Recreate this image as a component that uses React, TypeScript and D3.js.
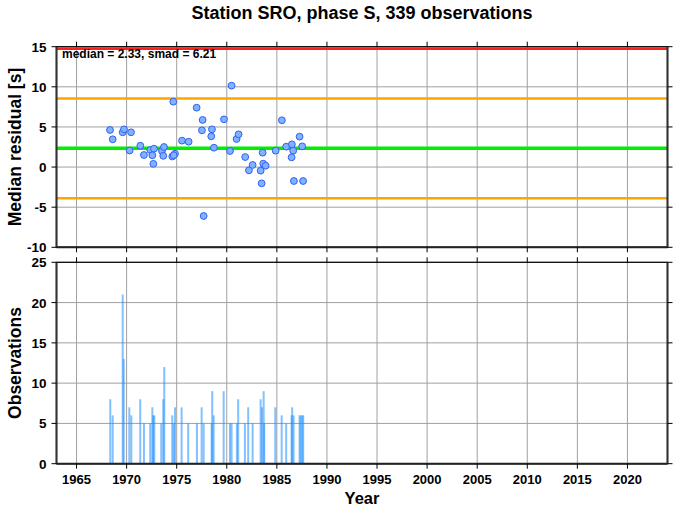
import React from "react";
import * as d3 from "d3";

const TITLE = "Station SRO, phase S, 339 observations";
const MEDIAN = 2.33;
const SMAD = 6.21;

// residual points: [year, median residual]
const pointYears = [
  1968.34, 1968.61, 1969.61, 1969.74, 1970.44, 1970.30, 1971.37, 1971.73, 1972.36, 1972.73,
  1972.57, 1972.67, 1973.53, 1973.66, 1973.73, 1974.56, 1974.83, 1974.66, 1974.70, 1975.53,
  1976.19, 1976.99, 1977.59, 1977.52, 1977.69, 1978.52, 1978.45, 1978.72, 1979.72, 1980.32,
  1980.48, 1980.98, 1981.18, 1981.84, 1982.21, 1982.58, 1983.38, 1983.58, 1983.64, 1983.88,
  1983.48, 1984.88, 1985.50, 1985.93, 1986.50, 1986.63, 1986.47, 1986.70, 1987.53, 1987.27,
  1987.62,
];
const pointValues = [
  4.62, 3.46, 4.33, 4.70, 4.33, 2.06, 2.66, 1.50, 2.13, 2.29,
  1.47, 0.40, 2.00, 1.40, 2.50, 1.32, 1.66, 8.15, 1.48, 3.29,
  3.16, 7.40, 5.87, 4.58, -6.10, 4.70, 3.83, 2.41, 5.95, 2.00,
  10.14, 3.50, 4.08, 1.25, -0.41, 0.26, -0.45, 1.79, 0.42, 0.17,
  -2.03, 2.04, 5.83, 2.54, 2.83, 2.04, 1.21, -1.74, 2.58, 3.79,
  -1.74,
];

// observation counts: [year, count]
const barYears = [
  1968.37, 1968.61, 1969.61, 1969.71, 1970.27, 1970.47, 1971.36, 1971.73, 1972.36, 1972.57,
  1972.66, 1972.76, 1973.46, 1973.66, 1973.76, 1974.56, 1974.70, 1974.83, 1975.49, 1976.15,
  1977.02, 1977.49, 1977.69, 1978.49, 1978.55, 1978.69, 1979.69, 1980.32, 1980.48, 1981.01,
  1981.14, 1981.81, 1982.14, 1982.58, 1983.38, 1983.51, 1983.68, 1983.74, 1984.84, 1985.48,
  1985.93, 1986.47, 1986.53, 1986.67, 1987.27, 1987.37, 1987.53, 1987.63,
];
const barCounts = [
  8, 6, 21, 13, 7, 6, 8, 5, 5, 7,
  6, 6, 5, 8, 12, 6, 5, 7, 7, 5,
  5, 7, 5, 5, 9, 6, 9, 5, 5, 5,
  8, 5, 7, 5, 8, 7, 9, 5, 7, 6,
  5, 6, 7, 6, 6, 6, 6, 6,
];

const xTicks = d3.range(1965, 2021, 5);
const y1Ticks = [-10, -5, 0, 5, 10, 15];
const y2Ticks = [0, 5, 10, 15, 20, 25];

const FONT = "'Liberation Sans', Arial, Helvetica, sans-serif";

export default function App() {
  const W = 674, H = 511;
  const left = 56.5, right = 667.5;
  const top1 = 46.7, bot1 = 247.3;
  const top2 = 262.3, bot2 = 463.7;
  const cx = (left + right) / 2;

  const x = d3.scaleLinear().domain([1963, 2024]).range([left, right]);
  const y1 = d3.scaleLinear().domain([-10, 15]).range([bot1, top1]);
  const y2 = d3.scaleLinear().domain([0, 25]).range([bot2, top2]);

  const refLines = [
    { v: MEDIAN + 2 * SMAD, c: "#ff2020", w: 2.5 },
    { v: MEDIAN - 2 * SMAD, c: "#ff2020", w: 2.5 },
    { v: MEDIAN + SMAD, c: "#ffa500", w: 2.5 },
    { v: MEDIAN - SMAD, c: "#ffa500", w: 2.5 },
    { v: MEDIAN, c: "#00ee00", w: 3.5 },
  ];

  const grid = "#a0a0a0";
  const tick = 5;

  const frame = (t: number, b: number) => (
    <g>
      <rect x={left} y={t} width={right - left} height={b - t} fill="none" stroke="#000" strokeWidth={1.2} />
      <line x1={left} x2={left} y1={t} y2={b} stroke="#333" strokeWidth={2} />
      <line x1={left} x2={right} y1={b} y2={b} stroke="#222" strokeWidth={2} />
      <line x1={right} x2={right} y1={t} y2={b} stroke="#333" strokeWidth={2} />
      {xTicks.map((v) => (
        <g key={v}>
          <line x1={x(v)} x2={x(v)} y1={b} y2={b + tick} stroke="#000" />
          <line x1={x(v)} x2={x(v)} y1={t} y2={t - tick} stroke="#000" />
        </g>
      ))}
    </g>
  );

  const pts = pointYears.map((yr, i) => ({ yr, v: pointValues[i] }));
  const bars = barYears.map((yr, i) => ({ yr, n: barCounts[i] }));

  return (
    <svg width={W} height={H} style={{ position: "absolute", left: 0, top: 0, background: "#fff" }} fontFamily={FONT}>
      <defs>
        <clipPath id="c1">
          <rect x={left} y={top1} width={right - left} height={bot1 - top1} />
        </clipPath>
      </defs>
      <rect x={0} y={0} width={W} height={H} fill="#fff" />
      <text x={cx} y={19} textAnchor="middle" fontWeight="bold" fontSize={18}>{TITLE}</text>

      {/* top panel grid */}
      <g>
        {xTicks.map((v) => (
          <line key={"gx1" + v} x1={x(v)} x2={x(v)} y1={top1} y2={bot1} stroke={grid} strokeWidth={1} />
        ))}
        {y1Ticks.map((v) => (
          <line key={"gy1" + v} x1={left} x2={right} y1={y1(v)} y2={y1(v)} stroke={grid} strokeWidth={1} />
        ))}
      </g>
      <g clipPath="url(#c1)">
        {refLines.map((l, i) => (
          <line key={i} x1={left} x2={right} y1={y1(l.v)} y2={y1(l.v)} stroke={l.c} strokeWidth={l.w} />
        ))}
        {pts.map((p, i) => (
          <circle key={i} cx={x(p.yr)} cy={y1(p.v)} r={3.4} fill="#80b2ff" stroke="#2f62f2" strokeWidth={1} />
        ))}
      </g>
      {frame(top1, bot1)}
      {y1Ticks.map((v) => (
        <g key={"t1" + v}>
          <line x1={left - tick} x2={left} y1={y1(v)} y2={y1(v)} stroke="#000" />
          <line x1={right} x2={right + tick} y1={y1(v)} y2={y1(v)} stroke="#000" />
          <text x={left - 10} y={y1(v) + 5} textAnchor="end" fontWeight="bold" fontSize={13.5}>{v}</text>
        </g>
      ))}
      <text x={62} y={58} fontWeight="bold" fontSize={12}>{`median = ${MEDIAN.toFixed(2)}, smad = ${SMAD.toFixed(2)}`}</text>
      <text transform={`translate(21,${(top1 + bot1) / 2}) rotate(-90)`} textAnchor="middle" fontWeight="bold" fontSize={17.5}>Median residual [s]</text>

      {/* bottom panel */}
      <g>
        {xTicks.map((v) => (
          <line key={"gx2" + v} x1={x(v)} x2={x(v)} y1={top2} y2={bot2} stroke={grid} strokeWidth={1} />
        ))}
        {y2Ticks.map((v) => (
          <line key={"gy2" + v} x1={left} x2={right} y1={y2(v)} y2={y2(v)} stroke={grid} strokeWidth={1} />
        ))}
      </g>
      <g>
        {bars.map((b, i) => (
          <rect key={i} x={x(b.yr) - 1} y={y2(b.n)} width={2} height={bot2 - y2(b.n)} fill="#1e8cff" fillOpacity={0.55} />
        ))}
      </g>
      {frame(top2, bot2)}
      {y2Ticks.map((v) => (
        <g key={"t2" + v}>
          <line x1={left - tick} x2={left} y1={y2(v)} y2={y2(v)} stroke="#000" />
          <line x1={right} x2={right + tick} y1={y2(v)} y2={y2(v)} stroke="#000" />
          <text x={left - 10} y={y2(v) + 5} textAnchor="end" fontWeight="bold" fontSize={13.5}>{v}</text>
        </g>
      ))}
      {xTicks.map((v) => (
        <text key={"xl" + v} x={x(v)} y={bot2 + 20} textAnchor="middle" fontWeight="bold" fontSize={13}>{v}</text>
      ))}
      <text transform={`translate(21,${(top2 + bot2) / 2}) rotate(-90)`} textAnchor="middle" fontWeight="bold" fontSize={17.5}>Observations</text>
      <text x={cx} y={504} textAnchor="middle" fontWeight="bold" fontSize={16.5}>Year</text>
    </svg>
  );
}
